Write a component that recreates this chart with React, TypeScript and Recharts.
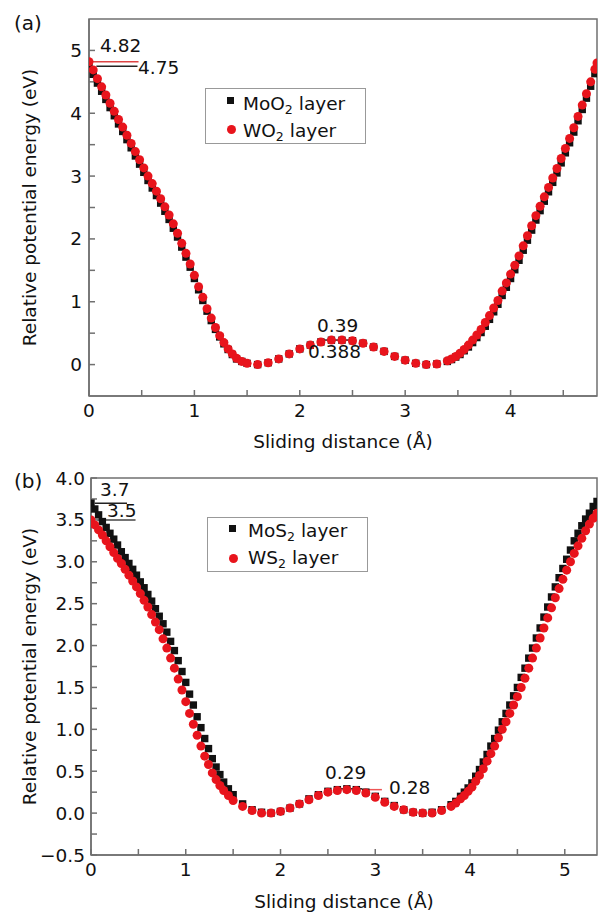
import React from 'react';
import { ScatterChart, Scatter, XAxis, YAxis, ReferenceLine, ReferenceArea } from 'recharts';

const FONT = '"DejaVu Sans", "Liberation Sans", sans-serif';
const FS = 18.5;
const AXIS = '#707070';
const RED = '#e8141c';
const BLACK = '#111';

// ---------- Panel (a): MoO2 / WO2 ----------
const xA = [
  0, 0.04, 0.08, 0.12, 0.16, 0.2, 0.24, 0.28, 0.32, 0.36, 0.4, 0.44, 0.48, 0.52, 0.56, 0.6, 0.64,
  0.68, 0.72, 0.76, 0.8, 0.84, 0.88, 0.92, 0.96, 1, 1.04, 1.08, 1.12, 1.16, 1.2, 1.24, 1.28, 1.32, 1.36,
  1.4, 1.45, 1.5, 1.6, 1.7, 1.8, 1.9, 2, 2.1, 2.2, 2.3, 2.4, 2.5, 2.6, 2.7, 2.8, 2.9, 3, 3.1, 3.2, 3.3, 3.4, 3.44,
  3.48, 3.52, 3.56, 3.6, 3.64, 3.68, 3.72, 3.76, 3.8, 3.84, 3.88, 3.92, 3.96, 4, 4.04, 4.08, 4.12,
  4.16, 4.2, 4.24, 4.28, 4.32, 4.36, 4.4, 4.44, 4.48, 4.52, 4.56, 4.6, 4.64, 4.68, 4.72, 4.76, 4.8, 4.82,
];
const wo2Energy = [
  4.82, 4.69, 4.55, 4.42, 4.29, 4.16, 4.03, 3.9, 3.78, 3.65, 3.52, 3.39, 3.26, 3.13, 3.0, 2.88, 2.76,
  2.64, 2.51, 2.38, 2.24, 2.09, 1.93, 1.77, 1.6, 1.42, 1.24, 1.07, 0.89, 0.74, 0.59, 0.46, 0.35, 0.25, 0.17,
  0.1, 0.05, 0.02, 0.0, 0.03, 0.09, 0.17, 0.25, 0.31, 0.36, 0.39, 0.39, 0.38, 0.34, 0.28, 0.21, 0.13, 0.07, 0.02, 0.0, 0.01, 0.06, 0.09,
  0.13, 0.18, 0.24, 0.31, 0.39, 0.47, 0.56, 0.67, 0.78, 0.9, 1.02, 1.17, 1.3, 1.44, 1.58, 1.73, 1.89,
  2.05, 2.21, 2.37, 2.52, 2.67, 2.82, 2.97, 3.12, 3.28, 3.44, 3.6, 3.77, 3.95, 4.13, 4.31, 4.5, 4.7, 4.8,
];
const moo2Energy = [
  4.75, 4.62, 4.48, 4.35, 4.22, 4.09, 3.96, 3.83, 3.71, 3.58, 3.45, 3.32, 3.19, 3.06, 2.93, 2.81, 2.69,
  2.57, 2.44, 2.31, 2.17, 2.03, 1.87, 1.71, 1.55, 1.37, 1.19, 1.02, 0.85, 0.7, 0.56, 0.44, 0.33, 0.24, 0.16,
  0.09, 0.05, 0.02, 0.0, 0.03, 0.09, 0.17, 0.25, 0.31, 0.36, 0.388, 0.388, 0.38, 0.34, 0.28, 0.21, 0.13, 0.07, 0.02, 0.0, 0.01, 0.05, 0.08,
  0.12, 0.16, 0.22, 0.28, 0.35, 0.43, 0.51, 0.61, 0.72, 0.84, 0.96, 1.1, 1.23, 1.37, 1.51, 1.66, 1.82,
  1.98, 2.14, 2.3, 2.45, 2.6, 2.75, 2.9, 3.05, 3.21, 3.37, 3.53, 3.7, 3.88, 4.06, 4.24, 4.43, 4.63, 4.73,
];
const aXTicks = [0, 0.5, 1, 1.5, 2, 2.5, 3, 3.5, 4, 4.5];
const aYTicks = [0, 0.5, 1, 1.5, 2, 2.5, 3, 3.5, 4, 4.5, 5];

// ---------- Panel (b): MoS2 / WS2 ----------
const xB = [
  0, 0.04, 0.08, 0.12, 0.16, 0.2, 0.24, 0.28, 0.32, 0.36, 0.4, 0.44, 0.48, 0.52, 0.56, 0.6, 0.64, 0.68,
  0.72, 0.76, 0.8, 0.84, 0.88, 0.92, 0.96, 1, 1.04, 1.08, 1.12, 1.16, 1.2, 1.24, 1.28, 1.32, 1.36, 1.4,
  1.45, 1.5, 1.6, 1.7, 1.8, 1.9, 2, 2.1, 2.2, 2.3, 2.4, 2.5, 2.6, 2.7, 2.8, 2.9, 3, 3.1, 3.2, 3.3, 3.4, 3.5,
  3.6, 3.7, 3.8, 3.85, 3.9,
  3.94, 3.98, 4.02, 4.06, 4.1, 4.14, 4.18, 4.22, 4.26, 4.3, 4.34, 4.38, 4.42, 4.46, 4.5, 4.54, 4.58,
  4.62, 4.66, 4.7, 4.74, 4.78, 4.82, 4.86, 4.9, 4.94, 4.98, 5.02, 5.06, 5.1, 5.14, 5.18, 5.22, 5.26, 5.3, 5.34,
];
const ws2Energy = [
  3.5, 3.44, 3.38, 3.32, 3.25, 3.18, 3.11, 3.04, 2.98, 2.91, 2.84, 2.77, 2.7, 2.62, 2.54, 2.46, 2.37, 2.28,
  2.19, 2.08, 1.97, 1.85, 1.73, 1.6, 1.47, 1.33, 1.19, 1.06, 0.93, 0.8, 0.68, 0.58, 0.48, 0.4, 0.33, 0.27,
  0.21, 0.15, 0.08, 0.03, 0.0, 0.0, 0.02, 0.06, 0.11, 0.16, 0.21, 0.25, 0.27, 0.28, 0.27, 0.24, 0.19, 0.13, 0.08, 0.04, 0.01, 0.0,
  0.0, 0.03, 0.08, 0.12, 0.17,
  0.21, 0.26, 0.31, 0.38, 0.45, 0.53, 0.62, 0.71, 0.8, 0.9, 1.0, 1.09, 1.19, 1.29, 1.39, 1.5, 1.61,
  1.73, 1.85, 1.97, 2.09, 2.21, 2.33, 2.45, 2.57, 2.68, 2.79, 2.9, 3.0, 3.1, 3.19, 3.28, 3.37, 3.45, 3.52, 3.58,
];
const mos2Energy = [
  3.7, 3.63, 3.56, 3.48, 3.41, 3.34, 3.27, 3.2, 3.12, 3.05, 2.98, 2.91, 2.84, 2.76, 2.69, 2.61, 2.53, 2.44,
  2.35, 2.26, 2.16, 2.05, 1.94, 1.82, 1.69, 1.56, 1.42, 1.29, 1.15, 1.02, 0.89, 0.77, 0.65, 0.55, 0.46, 0.37,
  0.29, 0.22, 0.11, 0.04, 0.01, 0.0, 0.02, 0.06, 0.11, 0.17, 0.22, 0.26, 0.28, 0.29, 0.28, 0.25, 0.2, 0.14, 0.09, 0.04, 0.01, 0.0,
  0.01, 0.04, 0.1, 0.14, 0.2,
  0.25, 0.3, 0.36, 0.44, 0.52, 0.61, 0.7, 0.8, 0.89, 0.99, 1.09, 1.19, 1.29, 1.4, 1.5, 1.62, 1.73,
  1.85, 1.97, 2.09, 2.21, 2.34, 2.46, 2.58, 2.7, 2.81, 2.92, 3.03, 3.14, 3.25, 3.34, 3.43, 3.51, 3.58, 3.66, 3.72,
];
const bXTicks = [0, 0.5, 1, 1.5, 2, 2.5, 3, 3.5, 4, 4.5, 5];
const bYTicks = [-0.5, -0.25, 0, 0.25, 0.5, 0.75, 1, 1.25, 1.5, 1.75, 2, 2.25, 2.5, 2.75, 3, 3.25, 3.5, 3.75, 4];

const zip = (xs: number[], ys: number[]) => xs.map((x, i) => ({ x, y: ys[i] }));
const aMoO2 = zip(xA, moo2Energy);
const aWO2 = zip(xA, wo2Energy);
const bMoS2 = zip(xB, mos2Energy);
const bWS2 = zip(xB, ws2Energy);

const fmtInt = (v: number) => (Number.isInteger(v) ? String(v) : '');
const fmtHalf = (v: number) => {
  if (Math.abs(v * 2 - Math.round(v * 2)) > 1e-6) return '';
  return v < 0 ? '\u2212' + Math.abs(v).toFixed(1) : v.toFixed(1);
};

const Square = (p: any) =>
  p.cx == null ? <g /> : <rect x={p.cx - 3.7} y={p.cy - 3.7} width={7.4} height={7.4} fill={BLACK} />;
const Dot = (p: any) => (p.cx == null ? <g /> : <circle cx={p.cx} cy={p.cy} r={4.5} fill={RED} />);

const tickStyle = { fill: '#111', fontSize: FS, fontFamily: FONT };
const labelStyle = { fill: '#111', fontSize: FS, fontFamily: FONT };

const txt = (left: number, top: number, s: React.ReactNode, size = FS) => (
  <div
    style={{
      position: 'absolute',
      left,
      top,
      fontFamily: FONT,
      fontSize: size,
      lineHeight: 1,
      color: '#111',
      whiteSpace: 'nowrap',
    }}
  >
    {s}
  </div>
);

const Sub = ({ children }: { children: React.ReactNode }) => (
  <span style={{ fontSize: '0.68em', position: 'relative', top: '0.3em' }}>{children}</span>
);

const LegendBox = ({
  left,
  top,
  width,
  height,
  rows,
}: {
  left: number;
  top: number;
  width: number;
  height: number;
  rows: { kind: 'sq' | 'dot'; mx: number; my: number; tx: number; ty: number; label: React.ReactNode }[];
}) => (
  <div
    style={{
      position: 'absolute',
      left,
      top,
      width,
      height,
      border: '1px solid #999',
      boxSizing: 'border-box',
      background: '#fff',
    }}
  >
    {rows.map((r, i) => (
      <React.Fragment key={i}>
        {r.kind === 'sq' ? (
          <div style={{ position: 'absolute', left: r.mx - 4, top: r.my - 4, width: 7, height: 7, background: BLACK }} />
        ) : (
          <div
            style={{ position: 'absolute', left: r.mx - 4.5, top: r.my - 4.5, width: 9, height: 9, borderRadius: '50%', background: RED }}
          />
        )}
        <div
          style={{
            position: 'absolute',
            left: r.tx,
            top: r.ty,
            fontFamily: FONT,
            fontSize: FS,
            lineHeight: 1,
            color: '#111',
            whiteSpace: 'nowrap',
          }}
        >
          {r.label}
        </div>
      </React.Fragment>
    ))}
  </div>
);

export default function App() {
  return (
    <div style={{ position: 'absolute', left: 0, top: 0, width: 599, height: 917, background: '#fff' }}>
      {/* Panel (a) */}
      <div style={{ position: 'absolute', left: 0, top: 0 }}>
        <ScatterChart width={599} height={455} margin={{ top: 19, right: 2, bottom: 0, left: 0 }}>
          <XAxis
            type="number"
            dataKey="x"
            domain={[0, 4.82]}
            allowDataOverflow
            ticks={aXTicks}
            interval={0}
            tickFormatter={fmtInt}
            tickSize={-6}
            tickMargin={14}
            height={59}
            stroke={AXIS}
            strokeWidth={1.5}
            tick={tickStyle}
            label={{ value: 'Sliding distance (Å)', position: 'insideBottom', offset: 7, ...labelStyle }}
          />
          <YAxis
            type="number"
            dataKey="y"
            domain={[-0.5, 5.5]}
            allowDataOverflow
            ticks={aYTicks}
            interval={0}
            tickFormatter={fmtInt}
            tickSize={-6}
            tickMargin={13}
            width={89}
            stroke={AXIS}
            strokeWidth={1.5}
            tick={tickStyle}
            label={{
              value: 'Relative potential energy (eV)',
              angle: -90,
              position: 'insideLeft',
              offset: 29,
              textAnchor: 'middle',
              ...labelStyle,
            }}
          />
          <ReferenceArea x1={0} x2={4.82} y1={-0.5} y2={5.5} fill="none" stroke={AXIS} strokeWidth={1.5} />
          <Scatter data={aMoO2} shape={Square} isAnimationActive={false} />
          <Scatter data={aWO2} shape={Dot} isAnimationActive={false} />
          <ReferenceLine segment={[{ x: 0, y: 4.82 }, { x: 0.47, y: 4.82 }]} stroke="#d44" strokeWidth={1.5} />
          <ReferenceLine segment={[{ x: 0.07, y: 4.75 }, { x: 0.46, y: 4.75 }]} stroke="#222" strokeWidth={1.5} />
          <ReferenceLine segment={[{ x: 2.19, y: 0.388 }, { x: 2.5, y: 0.388 }]} stroke="#d44" strokeWidth={1.5} />
          <ReferenceLine segment={[{ x: 2.19, y: 0.39 }, { x: 2.5, y: 0.39 }]} stroke="#444" strokeWidth={1.5} />
        </ScatterChart>
      </div>

      {/* Panel (b) */}
      <div style={{ position: 'absolute', left: 0, top: 440 }}>
        <ScatterChart width={599} height={477} margin={{ top: 38, right: 2, bottom: 0, left: 0 }}>
          <XAxis
            type="number"
            dataKey="x"
            domain={[0, 5.34]}
            allowDataOverflow
            ticks={bXTicks}
            interval={0}
            tickFormatter={fmtInt}
            tickSize={-6}
            tickMargin={14}
            height={62}
            stroke={AXIS}
            strokeWidth={1.5}
            tick={tickStyle}
            label={{ value: 'Sliding distance (Å)', position: 'insideBottom', offset: 9, ...labelStyle }}
          />
          <YAxis
            type="number"
            dataKey="y"
            domain={[-0.5, 4]}
            allowDataOverflow
            ticks={bYTicks}
            interval={0}
            tickFormatter={fmtHalf}
            tickSize={-6}
            tickMargin={12}
            width={91}
            stroke={AXIS}
            strokeWidth={1.5}
            tick={tickStyle}
            label={{
              value: 'Relative potential energy (eV)',
              angle: -90,
              position: 'insideLeft',
              offset: 29,
              textAnchor: 'middle',
              ...labelStyle,
            }}
          />
          <ReferenceArea x1={0} x2={5.34} y1={-0.5} y2={4} fill="none" stroke={AXIS} strokeWidth={1.5} />
          <Scatter data={bMoS2} shape={Square} isAnimationActive={false} />
          <Scatter data={bWS2} shape={Dot} isAnimationActive={false} />
          <ReferenceLine segment={[{ x: 0.04, y: 3.7 }, { x: 0.38, y: 3.7 }]} stroke="#222" strokeWidth={1.5} />
          <ReferenceLine segment={[{ x: 0.06, y: 3.5 }, { x: 0.47, y: 3.5 }]} stroke="#444" strokeWidth={1.5} />
          <ReferenceLine segment={[{ x: 2.59, y: 0.29 }, { x: 2.86, y: 0.29 }]} stroke="#222" strokeWidth={1.5} />
          <ReferenceLine segment={[{ x: 2.86, y: 0.28 }, { x: 3.07, y: 0.28 }]} stroke="#e55" strokeWidth={1.5} />
        </ScatterChart>
      </div>

      {/* panel labels */}
      {txt(14, 13, '(a)', 20)}
      {txt(14, 471, '(b)', 20)}

      {/* annotations (a) */}
      {txt(100, 37, '4.82')}
      {txt(138, 59, '4.75')}
      {txt(317, 317, '0.39')}
      {txt(308, 343, '0.388')}

      {/* annotations (b) */}
      {txt(100, 481, '3.7')}
      {txt(107, 502, '3.5')}
      {txt(325, 764, '0.29')}
      {txt(389, 779, '0.28')}

      <LegendBox
        left={205}
        top={88}
        width={161}
        height={56}
        rows={[
          { kind: 'sq', mx: 25, my: 12, tx: 37, ty: 6, label: <>MoO<Sub>2</Sub> layer</> },
          { kind: 'dot', mx: 25, my: 40, tx: 37, ty: 33, label: <>WO<Sub>2</Sub> layer</> },
        ]}
      />
      <LegendBox
        left={207}
        top={517}
        width={161}
        height={55}
        rows={[
          { kind: 'sq', mx: 25, my: 11, tx: 40, ty: 4, label: <>MoS<Sub>2</Sub> layer</> },
          { kind: 'dot', mx: 25, my: 40, tx: 40, ty: 31, label: <>WS<Sub>2</Sub> layer</> },
        ]}
      />
    </div>
  );
}
